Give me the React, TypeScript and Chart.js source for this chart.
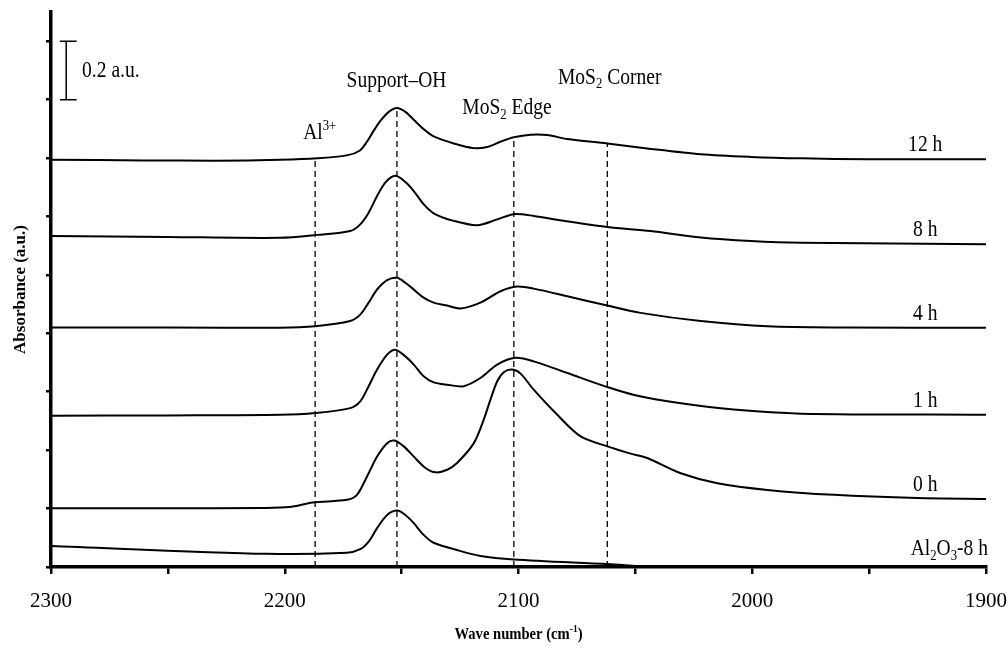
import React, { useEffect, useRef } from 'react';
import { Chart, registerables } from 'chart.js';

Chart.register(...registerables);

// ---------- data (wavenumber in cm^-1, absorbance in a.u.) ----------
const seriesLabels = ['12 h', '8 h', '4 h', '1 h', '0 h', 'Al2O3-8 h'];

const wn12h = [2300, 2260, 2230, 2202, 2186, 2173, 2168, 2165, 2162, 2159, 2155.5, 2152, 2148.4, 2144.8, 2140.6, 2136.3, 2127.7, 2119.1, 2113.4, 2107.7, 2102, 2094.9, 2087.7, 2079.1, 2062, 2045, 2022, 2000.6, 1979, 1950, 1900];
const abs12h = [1.394, 1.392, 1.391, 1.394, 1.399, 1.41, 1.425, 1.454, 1.493, 1.528, 1.558, 1.571, 1.558, 1.531, 1.499, 1.474, 1.45, 1.434, 1.438, 1.456, 1.471, 1.48, 1.479, 1.465, 1.45, 1.433, 1.413, 1.404, 1.399, 1.396, 1.396];

const wn8h = [2300, 2250, 2202, 2186, 2172, 2167.7, 2164.1, 2160.5, 2157, 2152.7, 2148.4, 2144.8, 2140.6, 2136.3, 2127.7, 2117.7, 2109.1, 2102, 2093.5, 2080.6, 2062, 2043.5, 2022, 2000.6, 1979, 1900];
const abs8h = [1.133, 1.13, 1.127, 1.137, 1.15, 1.173, 1.213, 1.27, 1.316, 1.339, 1.318, 1.287, 1.242, 1.211, 1.185, 1.17, 1.19, 1.208, 1.202, 1.185, 1.164, 1.15, 1.128, 1.116, 1.11, 1.105];

const wn4h = [2300, 2250, 2202, 2187, 2172, 2167.7, 2164.1, 2160.5, 2156.2, 2152, 2148.4, 2144.8, 2140.6, 2136.3, 2130.5, 2124.8, 2116.3, 2107.7, 2100.6, 2093.5, 2079.1, 2062, 2047.8, 2022, 1993.4, 1960, 1900];
const abs4h = [0.82, 0.82, 0.819, 0.824, 0.842, 0.864, 0.905, 0.95, 0.982, 0.99, 0.973, 0.95, 0.922, 0.905, 0.895, 0.885, 0.905, 0.944, 0.96, 0.953, 0.927, 0.895, 0.87, 0.842, 0.824, 0.82, 0.819];

const wn1h = [2300, 2250, 2202, 2187, 2172, 2167.7, 2164.1, 2160.5, 2156.2, 2152.7, 2148.4, 2144.8, 2140.6, 2136.3, 2130.5, 2123.4, 2116.3, 2109.1, 2101.3, 2093.5, 2079.1, 2062, 2050, 2032, 2008, 1979, 1900];
const abs1h = [0.518, 0.519, 0.521, 0.527, 0.544, 0.567, 0.619, 0.676, 0.727, 0.744, 0.721, 0.693, 0.653, 0.632, 0.624, 0.619, 0.647, 0.693, 0.716, 0.704, 0.664, 0.616, 0.588, 0.562, 0.539, 0.525, 0.521];

const wn0h = [2300, 2250, 2210, 2198, 2188, 2173.4, 2169.1, 2164.8, 2160.5, 2156.2, 2153.1, 2149.1, 2144.8, 2139.8, 2135.5, 2130.5, 2126.3, 2119.1, 2114.9, 2112, 2109.1, 2106.3, 2102.7, 2099.1, 2093.5, 2083.4, 2073.4, 2062, 2052, 2044.9, 2030.6, 2014.9, 1993.5, 1965, 1929.3, 1900];
const abs0h = [0.201, 0.201, 0.202, 0.205, 0.221, 0.23, 0.247, 0.31, 0.378, 0.424, 0.433, 0.413, 0.378, 0.339, 0.324, 0.333, 0.356, 0.424, 0.504, 0.573, 0.636, 0.667, 0.676, 0.662, 0.607, 0.521, 0.447, 0.413, 0.388, 0.373, 0.321, 0.287, 0.264, 0.247, 0.236, 0.233];

const wnAl = [2300, 2207.5, 2173.4, 2167.7, 2164.1, 2160.5, 2156.2, 2151.9, 2148.4, 2144.8, 2140.6, 2136.3, 2126.3, 2116.3, 2102, 2062, 2040, 1900];
const absAl = [0.072, 0.045, 0.049, 0.061, 0.087, 0.133, 0.178, 0.193, 0.178, 0.15, 0.11, 0.083, 0.058, 0.038, 0.026, 0.01, 0, 0];

// band markers (dashed lines): position and top end
const markerWn = [2187, 2152, 2102, 2062];
const markerTop = [1.399, 1.571, 1.471, 1.45];

const xTickStep = 50;
const yTickStep = 0.2;

const FAM = '"Liberation Serif", "Times New Roman", serif';

type Part = { t: string; m?: 'sup' | 'sub' };

function drawRich(ctx: CanvasRenderingContext2D, parts: Part[], x: number, y: number, size: number, align: 'left' | 'center' | 'right', sx: number, bold = false) {
  const font = (s: number) => `${bold ? 'bold ' : ''}${s}px ${FAM}`;
  const widths: number[] = [];
  let w = 0;
  for (const p of parts) {
    const s = p.m ? size * 0.65 : size;
    ctx.font = font(s);
    const ww = ctx.measureText(p.t).width;
    widths.push(ww);
    w += ww;
  }
  ctx.save();
  ctx.translate(x, y);
  ctx.scale(sx, 1);
  ctx.textAlign = 'left';
  ctx.textBaseline = 'alphabetic';
  ctx.fillStyle = '#000';
  let cx = align === 'left' ? 0 : align === 'center' ? -w / 2 : -w;
  parts.forEach((p, i) => {
    const s = p.m ? size * 0.65 : size;
    ctx.font = font(s);
    const dy = p.m === 'sup' ? -size * 0.4 : p.m === 'sub' ? size * 0.2 : 0;
    ctx.fillText(p.t, cx, dy);
    cx += widths[i];
  });
  ctx.restore();
}

const richLabels: Part[][] = [
  [{ t: '12 h' }],
  [{ t: '8 h' }],
  [{ t: '4 h' }],
  [{ t: '1 h' }],
  [{ t: '0 h' }],
  [{ t: 'Al' }, { t: '2', m: 'sub' }, { t: 'O' }, { t: '3', m: 'sub' }, { t: '-8 h' }],
];

const annotPlugin = {
  id: 'annot',
  afterDraw(chart: any) {
    const { ctx, scales } = chart;
    const x = scales.x;
    const y = scales.y;
    const px = (v: number) => x.getPixelForValue(v);
    const py = (v: number) => y.getPixelForValue(v);

    // scale bar 0.2 a.u.
    ctx.save();
    ctx.strokeStyle = '#000';
    ctx.lineWidth = 1.5;
    const bx = px(2293.5);
    const b0 = py(1.6);
    const b1 = py(1.8);
    ctx.beginPath();
    ctx.moveTo(bx, b0);
    ctx.lineTo(bx, b1);
    ctx.moveTo(px(2296.2), b0);
    ctx.lineTo(px(2289), b0);
    ctx.moveTo(px(2296.2), b1);
    ctx.lineTo(px(2289), b1);
    ctx.stroke();
    ctx.restore();

    const S = 23;
    const SX = 0.85;
    drawRich(ctx, [{ t: '0.2 a.u.' }], px(2286.7), py(1.678), S, 'left', SX);
    drawRich(ctx, [{ t: 'Al' }, { t: '3+', m: 'sup' }], px(2192.1), py(1.465), S, 'left', SX);
    drawRich(ctx, [{ t: 'Support\u2013OH' }], px(2152.2), py(1.643), S, 'center', SX);
    drawRich(ctx, [{ t: 'MoS' }, { t: '2', m: 'sub' }, { t: ' Edge' }], px(2104.9), py(1.551), S, 'center', SX);
    drawRich(ctx, [{ t: 'MoS' }, { t: '2', m: 'sub' }, { t: ' Corner' }], px(2061), py(1.654), S, 'center', SX);

    // series labels at right end
    const lastVals = [abs12h, abs8h, abs4h, abs1h, abs0h, absAl].map((a) => a[a.length - 1]);
    richLabels.forEach((parts, i) => {
      const isAl = i === 5;
      drawRich(ctx, parts, isAl ? px(1900) + 2 : px(1926), py(lastVals[i]) - (isAl ? 12 : 8), S, isAl ? 'right' : 'center', SX);
    });

    // x-axis title
    drawRich(ctx, [{ t: 'Wave number (cm' }, { t: '-1', m: 'sup' }, { t: ')' }], (chart.chartArea.left + chart.chartArea.right) / 2, 639, 17, 'center', 0.86, true);
  },
};

function mk(wn: number[], ab: number[]) {
  return wn.map((w, i) => ({ x: w, y: ab[i] }));
}

export default function App() {
  const ref = useRef<HTMLCanvasElement>(null);
  useEffect(() => {
    if (!ref.current) return;
    const curves = [
      [wn12h, abs12h],
      [wn8h, abs8h],
      [wn4h, abs4h],
      [wn1h, abs1h],
      [wn0h, abs0h],
      [wnAl, absAl],
    ].map(([w, a], i) => ({
      label: seriesLabels[i],
      data: mk(w as number[], a as number[]),
      borderColor: '#000',
      borderWidth: 2,
      pointRadius: 0,
      fill: false,
      cubicInterpolationMode: 'default' as const,
      tension: 0.3,
    }));
    const markers = markerWn.map((w, i) => ({
      label: 'marker' + i,
      data: [
        { x: w, y: 0 },
        { x: w, y: markerTop[i] },
      ],
      borderColor: '#000',
      borderWidth: 1.3,
      borderDash: [6, 4],
      pointRadius: 0,
      fill: false,
      tension: 0,
    }));
    const chart = new Chart(ref.current, {
      type: 'line',
      data: { datasets: [...curves, ...markers] as any },
      options: {
        animation: false,
        responsive: false,
        layout: { padding: { top: 12, right: 22, left: 0, bottom: 0 } },
        plugins: { legend: { display: false }, tooltip: { enabled: false } },
        scales: {
          x: {
            type: 'linear',
            reverse: true,
            min: 1900,
            max: 2300,
            afterFit: (s: any) => {
              s.height = 83;
              s.paddingLeft = 0;
              s.paddingRight = 0;
            },
            ticks: {
              stepSize: xTickStep,
              autoSkip: false,
              maxRotation: 0,
              includeBounds: false,
              color: '#000',
              padding: 15,
              font: { family: FAM, size: 21 },
              callback: (v: any) => (Math.round(v) % 100 === 0 ? String(Math.round(v)) : ''),
            },
            grid: { drawOnChartArea: false, drawTicks: true, tickLength: 7, color: '#000', lineWidth: 2.5 },
            border: { display: true, color: '#000', width: 3.5 },
          },
          y: {
            type: 'linear',
            min: 0,
            max: 1.9,
            afterFit: (s: any) => {
              s.width = 51;
              s.paddingTop = 0;
              s.paddingBottom = 0;
            },
            ticks: { stepSize: yTickStep, includeBounds: false, callback: () => '' },
            grid: { drawOnChartArea: false, drawTicks: true, tickLength: 5, color: '#000', lineWidth: 2.5 },
            border: { display: true, color: '#000', width: 3.5 },
            title: {
              display: true,
              text: 'Absorbance (a.u.)',
              color: '#000',
              font: { family: FAM, size: 17, weight: 'bold' },
              padding: { top: 10, bottom: 0 },
            },
          },
        },
      },
      plugins: [annotPlugin],
    });
    return () => chart.destroy();
  }, []);
  return (
    <div style={{ position: 'fixed', left: 0, top: 0, width: 1008, height: 650, background: '#fff' }}>
      <canvas ref={ref} width={1008} height={650} style={{ width: 1008, height: 650 }} />
    </div>
  );
}
